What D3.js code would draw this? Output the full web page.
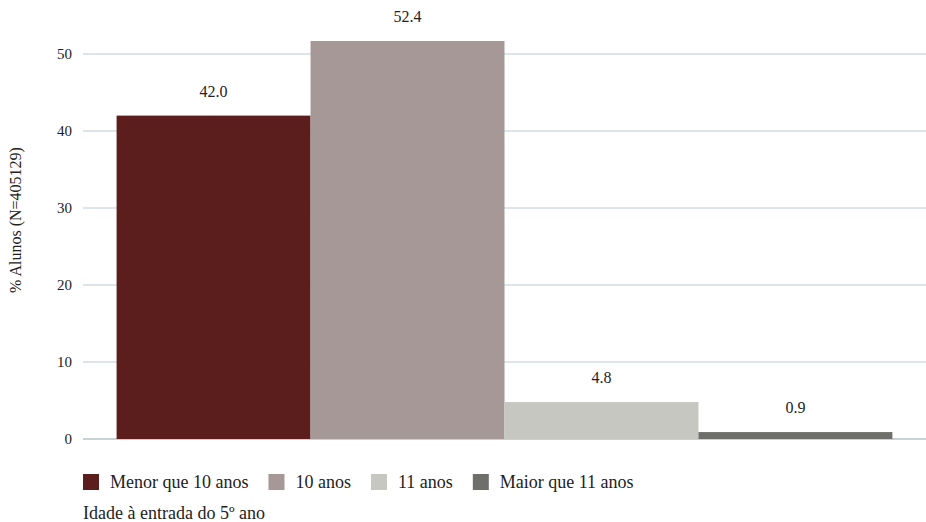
<!DOCTYPE html>
<html><head><meta charset="utf-8">
<script src="https://cdn.jsdelivr.net/npm/d3@7"></script>
<style>body{margin:0;background:#fff}svg{display:block}</style>
</head><body>
<svg id="c" width="926" height="522"></svg>
<script>
const categories = ["Idade à entrada do 5º ano"];
const seriesNames = ["Menor que 10 anos", "10 anos", "11 anos", "Maior que 11 anos"];
const seriesValues = [42.0, 52.4, 4.8, 0.9];
const seriesLabels = ["42.0", "52.4", "4.8", "0.9"];
const seriesColors = ["#5c1e1d", "#a69897", "#c7c7c2", "#6e6e6b"];
const yTicks = [0, 10, 20, 30, 40, 50];
const yTitle = "% Alunos (N=405129)";

(function () {
const FONT = "'Liberation Serif', 'DejaVu Serif', serif";
const svg = d3.select("#c").style("font-family", FONT);
const pLeft = 83, pRight = 926, pTop = 41, pBottom = 439;
const y = d3.scaleLinear().domain([0, 50]).range([pBottom, 54]);
const x0 = d3.scaleBand().domain(categories).range([pLeft, pRight]).paddingOuter(0.0433).paddingInner(0);
const x1 = d3.scaleBand().domain(seriesNames).range([x0(categories[0]), x0(categories[0]) + x0.bandwidth()]);

svg.append("g").selectAll("line").data(yTicks).join("line")
  .attr("x1", pLeft).attr("x2", pRight).attr("y1", d => y(d)).attr("y2", d => y(d))
  .attr("stroke", d => d === 0 ? "#8fa3ad" : "#b9cbd5").attr("stroke-width", 1);

const yAxis = d3.axisLeft(y).tickValues(yTicks).tickSize(0).tickPadding(11).tickFormat(d3.format("d"));
const ga = svg.append("g").attr("transform", `translate(${pLeft},0)`).call(yAxis);
ga.attr("font-family", null).style("font-family", FONT);
ga.select(".domain").remove();
ga.selectAll("text").style("font-family", FONT).attr("font-size", 15).attr("fill", "#222");

function txt(sel) { return sel.style("font-family", FONT).attr("fill", "#222"); }

txt(svg.append("text")).attr("transform", `translate(21,220) rotate(-90)`)
  .attr("text-anchor", "middle").attr("font-size", 16).text(yTitle);

svg.append("clipPath").attr("id", "clip").append("rect")
  .attr("x", pLeft).attr("y", pTop).attr("width", pRight - pLeft).attr("height", pBottom - pTop + 1);

const data = seriesNames.map((n, i) => ({n, v: seriesValues[i], l: seriesLabels[i], c: seriesColors[i]}));
svg.append("g").attr("clip-path", "url(#clip)").selectAll("rect").data(data).join("rect")
  .attr("x", d => x1(d.n)).attr("width", x1.bandwidth())
  .attr("y", d => y(d.v)).attr("height", d => pBottom - y(d.v)).attr("fill", d => d.c);

txt(svg.append("g").selectAll("text").data(data).join("text"))
  .attr("x", d => x1(d.n) + x1.bandwidth() / 2)
  .attr("y", d => Math.max(y(d.v), pTop) - 19)
  .attr("text-anchor", "middle").attr("font-size", 16).text(d => d.l);

const lg = svg.append("g").attr("transform", "translate(83,474)");
let lx = 0;
data.forEach(d => {
  lg.append("rect").attr("x", lx).attr("y", 0).attr("width", 16).attr("height", 16).attr("fill", d.c);
  const t = txt(lg.append("text")).attr("x", lx + 27).attr("y", 14).attr("font-size", 18).text(d.n);
  lx += 27 + t.node().getComputedTextLength() + 20;
});
txt(svg.append("text")).attr("x", 83).attr("y", 519).attr("font-size", 18).text(categories[0]);
})();
</script>
</body></html>
